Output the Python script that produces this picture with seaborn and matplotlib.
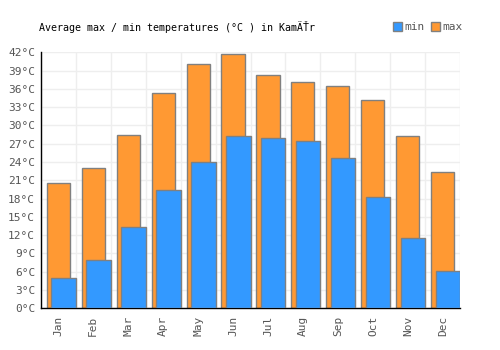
"""Average max / min monthly temperatures bar chart."""

import pandas as pd
import matplotlib
matplotlib.use("Agg")
import matplotlib.pyplot as plt
from matplotlib.patches import Patch
from matplotlib.ticker import MultipleLocator, FixedLocator
import seaborn as sns

MONTHS = ["Jan", "Feb", "Mar", "Apr", "May", "Jun",
          "Jul", "Aug", "Sep", "Oct", "Nov", "Dec"]
T_MAX = [20.6, 23.0, 28.5, 35.3, 40.0, 41.7, 38.2, 37.2, 36.4, 34.1, 28.2, 22.3]
T_MIN = [4.9, 8.0, 13.3, 19.4, 24.0, 28.2, 27.9, 27.4, 24.6, 18.3, 11.6, 6.2]

ORANGE = "#FF9933"
BLUE = "#3399FF"
EDGE = "#808080"

df = pd.DataFrame({"month": MONTHS, "max": T_MAX, "min": T_MIN})

sns.set_style("white")
plt.rcParams["font.family"] = ["DejaVu Sans Mono", "DejaVu Sans"]

fig = plt.figure(figsize=(5, 3.5), dpi=100)
ax = fig.add_axes([0.0814, 0.119, 0.8392, 0.7316])

sns.barplot(data=df, x="month", y="max", color=ORANGE, width=0.66,
            edgecolor=EDGE, linewidth=1, saturation=1, ax=ax, zorder=2)
n_max = len(ax.patches)
sns.barplot(data=df, x="month", y="min", color=BLUE, width=0.70,
            edgecolor=EDGE, linewidth=1, saturation=1, ax=ax, zorder=3)
# push the min bars to the right edge of each month slot
for p in ax.patches[n_max:]:
    p.set_x(p.get_x() + 0.15)

ax.set_xlim(-0.5, len(MONTHS) - 0.5)
ax.set_ylim(0, 42)
ax.yaxis.set_major_locator(MultipleLocator(3))
ax.set_yticklabels([f"{int(v)}°C" for v in ax.get_yticks()])
ax.xaxis.set_minor_locator(FixedLocator([i + 0.5 for i in range(-1, len(MONTHS))]))
ax.grid(axis="y", which="major", color="#eeeeee", linewidth=1, zorder=0)
ax.grid(axis="x", which="minor", color="#eeeeee", linewidth=1, zorder=0)
ax.set_axisbelow(True)

for s in ["top", "right"]:
    ax.spines[s].set_visible(False)
for s in ["left", "bottom"]:
    ax.spines[s].set_color("black")
    ax.spines[s].set_linewidth(1)

ax.tick_params(axis="x", which="both", length=0, labelsize=8, labelcolor="#555555",
               rotation=90, pad=5)
ax.tick_params(axis="y", length=0, labelsize=8, labelcolor="#555555", pad=4)
ax.set_xlabel("")
ax.set_ylabel("")

fig.text(0.078, 0.922, "Average max / min temperatures (°C ) in KamÄŤr",
         fontsize=7.2, color="black", va="center", ha="left")

handles = [Patch(facecolor=BLUE, edgecolor=EDGE, label="min"),
           Patch(facecolor=ORANGE, edgecolor=EDGE, label="max")]
fig.legend(handles=handles, loc="center right", bbox_to_anchor=(0.925, 0.922),
           ncol=2, frameon=False, fontsize=8, handlelength=0.8, handleheight=0.8,
           handletextpad=0.2, columnspacing=0.6, labelcolor="#555555",
           borderaxespad=0, borderpad=0)

plt.savefig("out.png", dpi=100)
plt.close()
